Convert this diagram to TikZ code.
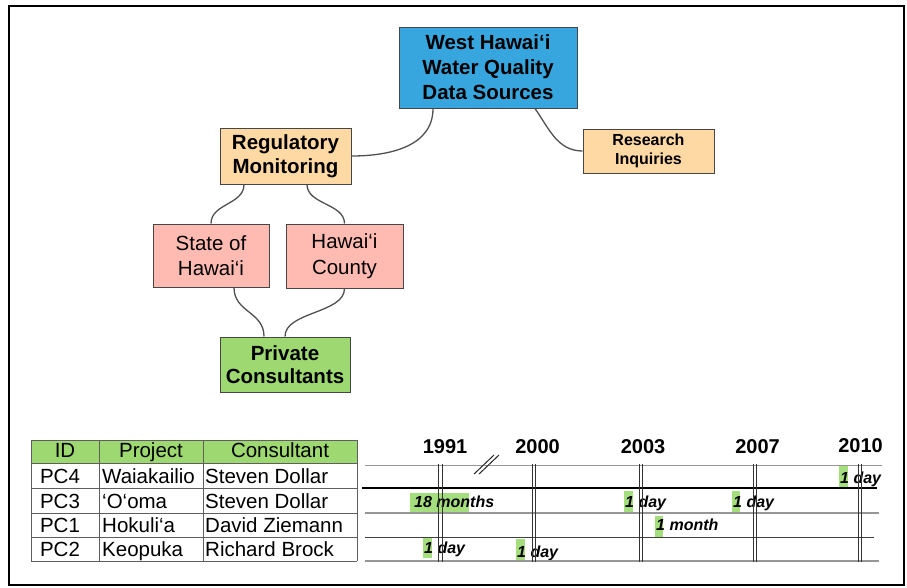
\documentclass[tikz,border=0pt]{standalone}
\usepackage{fontspec}
\setmainfont{Liberation Sans}
\definecolor{cblue}{RGB}{56,166,222}
\definecolor{corange}{RGB}{255,217,164}
\definecolor{cpink}{RGB}{255,187,178}
\definecolor{cgreen}{RGB}{158,216,112}
\definecolor{chl}{RGB}{165,222,125}
\definecolor{cline}{RGB}{80,80,80}
\definecolor{cbord}{RGB}{70,70,70}
\definecolor{cgrid}{RGB}{95,95,95}
\definecolor{clight}{RGB}{150,150,150}
\begin{document}
\begin{tikzpicture}[x=1pt,y=-1pt,
  box/.style={draw=cbord,line width=1pt,align=center,inner sep=0pt,text=black},
  conn/.style={draw=cline,line width=1.3pt},
  cell/.style={font=\fontsize{20.5}{24}\selectfont,inner sep=0pt},
  year/.style={font=\fontsize{20}{24}\selectfont\bfseries,inner sep=0pt,anchor=base},
  dur/.style={font=\fontsize{16}{19}\selectfont\bfseries\itshape,inner sep=0pt,anchor=base west},
  hl/.style={fill=chl,draw=none},
  vline/.style={draw=black!80,line width=0.9pt},
]
\useasboundingbox (0,0) rectangle (907,587);
\draw[line width=2pt] (9,6) rectangle (904,585);

% ---------- tree ----------
\node[box,fill=cblue,minimum width=178pt,minimum height=81pt,
      font=\fontsize{20.5}{25}\selectfont\bfseries] (west) at (488,67.5)
      {West Hawai‘i\\Water Quality\\Data Sources};
\node[box,fill=corange,minimum width=131pt,minimum height=56pt,
      font=\fontsize{20.5}{24}\selectfont\bfseries] (reg) at (285.5,156)
      {Regulatory\\Monitoring};
\node[box,fill=corange,minimum width=131pt,minimum height=44pt,
      font=\fontsize{16}{19}\selectfont\bfseries] (res) at (648.5,151)
      {Research\\Inquiries};
\node[box,fill=cpink,minimum width=116pt,minimum height=63pt,
      font=\fontsize{20.5}{25.5}\selectfont] (state) at (211,255.5)
      {State of\\Hawai‘i};
\node[box,fill=cpink,minimum width=117pt,minimum height=64pt,
      font=\fontsize{20.5}{25.5}\selectfont] (county) at (344.5,256)
      {Hawai‘i\\County};
\node[box,fill=cgreen,minimum width=130pt,minimum height=55pt,
      font=\fontsize{20.5}{23.5}\selectfont\bfseries] (priv) at (285,364.5)
      {Private\\Consultants};

\draw[conn] ([xshift=-55pt]west.south) .. controls +(0,38) and +(38,0) .. (reg.east);
\draw[conn] ([xshift=47pt]west.south) .. controls +(14,20) and +(-25,0) .. (res.west);
\draw[conn] ([xshift=-41.5pt]reg.south) .. controls +(0,20) and +(0,-20) .. (state.north);
\draw[conn] ([xshift=21.5pt]reg.south) .. controls +(0,20) and +(0,-20) .. (county.north);
\draw[conn] ([xshift=23pt]state.south) .. controls +(0,25) and +(0,-25) .. ([xshift=-21pt]priv.north);
\draw[conn] (county.south) .. controls +(0,25) and +(0,-25) .. (priv.north);

% ---------- table ----------
\fill[cgreen] (31,440) rectangle (357,463);
\foreach \yy in {440,463,488,513,537,561} \draw[cgrid,line width=1pt] (31,\yy) -- (357,\yy);
\foreach \xx in {31,99,203,357} \draw[cgrid,line width=1pt] (\xx,440) -- (\xx,561);

\node[cell,anchor=base] (hid) at (65,457) {ID};
\node[cell,anchor=base] (hpr) at (151,457) {Project};
\node[cell,anchor=base] (hco) at (280,457) {Consultant};

\node[cell,anchor=base] (id1) at (60,483) {PC4};
\node[cell,anchor=base] (id2) at (60,508) {PC3};
\node[cell,anchor=base] (id3) at (60,532) {PC1};
\node[cell,anchor=base] (id4) at (60,556) {PC2};

\node[cell,anchor=base west] (pr1) at (102,483) {Waiakailio};
\node[cell,anchor=base west] (pr2) at (102,508) {‘O‘oma};
\node[cell,anchor=base west] (pr3) at (102,532) {Hokuli‘a};
\node[cell,anchor=base west] (pr4) at (102,556) {Keopuka};

\node[cell,anchor=base west] (co1) at (205,483) {Steven Dollar};
\node[cell,anchor=base west] (co2) at (205,508) {Steven Dollar};
\node[cell,anchor=base west] (co3) at (205,532) {David Ziemann};
\node[cell,anchor=base west] (co4) at (205,556) {Richard Brock};

% ---------- timeline ----------
\node[year] (y1991) at (445,453) {1991};
\node[year] (y2000) at (537.5,453) {2000};
\node[year] (y2003) at (643,453) {2003};
\node[year] (y2007) at (757.5,453) {2007};
\node[year] (y2010) at (860.5,452) {2010};

% highlights
\fill[hl] (839,465) rectangle (848,487);
\fill[hl] (410,493) rectangle (469,512);
\fill[hl] (624,491) rectangle (633,514);
\fill[hl] (732,491) rectangle (740,514);
\fill[hl] (655,516) rectangle (663,537);
\fill[hl] (423,537) rectangle (432,558);
\fill[hl] (516,539) rectangle (525,562);

\node[dur] (d1) at (840,483) {1 day};
\node[dur] (d2) at (414,507) {18 months};
\node[dur] (d3) at (625,507) {1 day};
\node[dur] (d4) at (733,507) {1 day};
\node[dur] (d5) at (656,530) {1 month};
\node[dur] (d6) at (424,553) {1 day};
\node[dur] (d7) at (517,557) {1 day};

% horizontal lines
\draw[clight,line width=1pt] (365,465) -- (882,465);
\draw[black,line width=1.2pt] (362,488) -- (877,488);
\draw[clight,line width=1.4pt] (365,513) -- (879,513);
\draw[black!75,line width=1pt] (365,537) -- (874,537);
\draw[clight,line width=1.6pt] (365,561) -- (879,561);

% vertical double lines
\foreach \a/\b in {438/442.5,532/535.5,639/642.5,753/756.5,858/861}{
  \draw[vline] (\a,464) -- (\a,562);
  \draw[vline] (\b,464) -- (\b,562);
}

% break mark
\draw[black!85,line width=1pt] (474,474) -- (494,455) (479,474) -- (499,455);
\end{tikzpicture}
\end{document}
